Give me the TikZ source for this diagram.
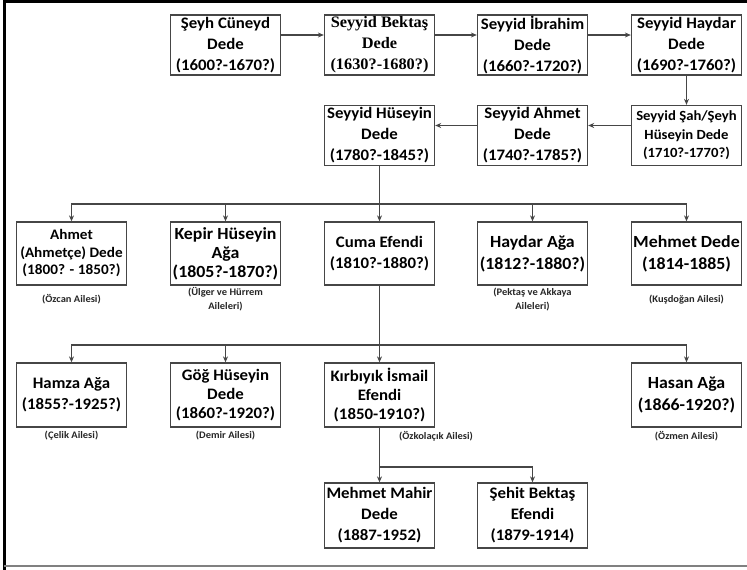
\documentclass[tikz,border=0pt]{standalone}
\usepackage{fontspec}
\setmainfont{Carlito}[FakeStretch=1.05]
\newfontfamily\serifbox{Liberation Serif}[FakeStretch=1.02]
\usetikzlibrary{arrows.meta}
\definecolor{linegray}{RGB}{70,70,70}
\begin{document}
\begin{tikzpicture}[x=1pt,y=-1pt]
          \tikzstyle{every node}=[align=center,font=\bfseries\fontsize{16}{21}\selectfont,inner sep=0pt];
          \tikzstyle{person}=[draw=linegray,line width=1.3pt,minimum width=110pt,minimum height=60pt,fill=white];
          \tikzstyle{tall}=[person,minimum height=63pt];
          \tikzstyle{small}=[font=\bfseries\fontsize{14}{18.5}\selectfont];
          \tikzstyle{family}=[font=\bfseries\fontsize{10}{14}\selectfont,text=black!85];
          \tikzstyle{link}=[draw=linegray,line width=1.2pt];
          \tikzstyle{arr}=[link,-{Stealth[length=6pt,width=5pt]}];
          \useasboundingbox (0,0) rectangle (747,570);
          % frame
          \draw[line width=3pt] (4,570) -- (4,1.5) -- (747,1.5);
          \draw[gray,line width=2pt] (4,566) -- (747,566);
          %\node (name) at (x,y) [style] {text};
          % first line of the family
          \node[person] (cuneyd) at (225.5,45) {Şeyh Cüneyd\\Dede\\(1600?-1670?)};
          \node[person,font=\bfseries\serifbox\fontsize{16}{21}\selectfont] (bektas) at (379.5,45) {Seyyid Bektaş\\Dede\\(1630?-1680?)};
          \node[person] (ibrahim) at (532.5,45) {Seyyid İbrahim\\Dede\\(1660?-1720?)};
          \node[person] (haydar) at (686.5,45) {Seyyid Haydar\\Dede\\(1690?-1760?)};
          \node[person,small] (sah) at (686.5,135.5) {Seyyid Şah/Şeyh\\Hüseyin Dede\\(1710?-1770?)};
          \node[person] (ahmet) at (532.5,135.5) {Seyyid Ahmet\\Dede\\(1740?-1785?)};
          \node[person] (huseyin) at (379.5,135.5) {Seyyid Hüseyin\\Dede\\(1780?-1845?)};
          % sons of Seyyid Hüseyin Dede
          \node[tall,font=\bfseries\fontsize{14.5}{17.5}\selectfont] (ahmetce) at (71.5,253.5) {Ahmet\\(Ahmetçe) Dede\\(1800? - 1850?)};
          \node[tall,font=\bfseries\fontsize{17}{19}\selectfont] (kepir) at (225.5,253.5) {Kepir Hüseyin\\Ağa\\(1805?-1870?)};
          \node[tall] (cuma) at (379.5,253.5) {Cuma Efendi\\(1810?-1880?)};
          \node[tall,font=\bfseries\fontsize{17}{22}\selectfont] (haydaraga) at (532.5,253.5) {Haydar Ağa\\(1812?-1880?)};
          \node[tall,font=\bfseries\fontsize{17}{22}\selectfont] (mehmet) at (686.5,253.5) {Mehmet Dede\\(1814-1885)};
          \node[family] (f1) at (71.5,299) {(Özcan Ailesi)};
          \node[family] (f2) at (225.5,299) {(Ülger ve Hürrem\\Aileleri)};
          \node[family] (f3) at (532.5,300) {(Pektaş ve Akkaya\\Aileleri)};
          \node[family] (f4) at (686.5,300) {(Kuşdoğan Ailesi)};
          % sons of Cuma Efendi
          \node[tall,minimum height=64pt] (hamza) at (71.5,395) {Hamza Ağa\\(1855?-1925?)};
          \node[tall,minimum height=64pt,font=\bfseries\fontsize{16}{19}\selectfont] (gog) at (225.5,395) {Göğ Hüseyin\\Dede\\(1860?-1920?)};
          \node[tall,minimum height=64pt,font=\bfseries\fontsize{16}{19}\selectfont] (ismail) at (379.5,395) {Kırbıyık İsmail\\Efendi\\(1850-1910?)};
          \node[tall,minimum height=64pt,font=\bfseries\fontsize{17}{22}\selectfont] (hasan) at (686.5,395) {Hasan Ağa\\(1866-1920?)};
          \node[family] (f5) at (71.5,436) {(Çelik Ailesi)};
          \node[family] (f6) at (225.5,436) {(Demir Ailesi)};
          \node[family] (f7) at (436,436) {(Özkolaçık Ailesi)};
          \node[family] (f8) at (686.5,436) {(Özmen Ailesi)};
          % sons of Kırbıyık İsmail Efendi
          \node[tall,minimum height=65pt] (mahir) at (379.5,515.5) {Mehmet Mahir\\Dede\\(1887-1952)};
          \node[tall,minimum height=65pt] (sehit) at (532.5,515.5) {Şehit Bektaş\\Efendi\\(1879-1914)};
          % chain
          \draw[arr] ([yshift=10pt]cuneyd.east) -- ([yshift=10pt]bektas.west);
          \draw[arr] ([yshift=10pt]bektas.east) -- ([yshift=10pt]ibrahim.west);
          \draw[arr] ([yshift=10pt]ibrahim.east) -- ([yshift=10pt]haydar.west);
          \draw[arr] (haydar) -- (sah);
          \draw[arr] ([yshift=10pt]sah.west) -- ([yshift=10pt]ahmet.east);
          \draw[arr] ([yshift=10pt]ahmet.west) -- ([yshift=10pt]huseyin.east);
          % branches
          \coordinate (b1) at (379.5,204);
          \coordinate (b2) at (379.5,345);
          \coordinate (b3) at (379.5,467);
          \draw[link] (huseyin) -- (b1);
          \foreach \n in {ahmetce,kepir,cuma,haydaraga,mehmet}
            \draw[arr] (b1) -| (\n.north);
          \draw[link] (cuma) -- (b2);
          \foreach \n in {hamza,gog,ismail,hasan}
            \draw[arr] (b2) -| (\n.north);
          \draw[link] (ismail) -- (b3);
          \foreach \n in {mahir,sehit}
            \draw[arr] (b3) -| (\n.north);
      \end{tikzpicture}
\end{document}
